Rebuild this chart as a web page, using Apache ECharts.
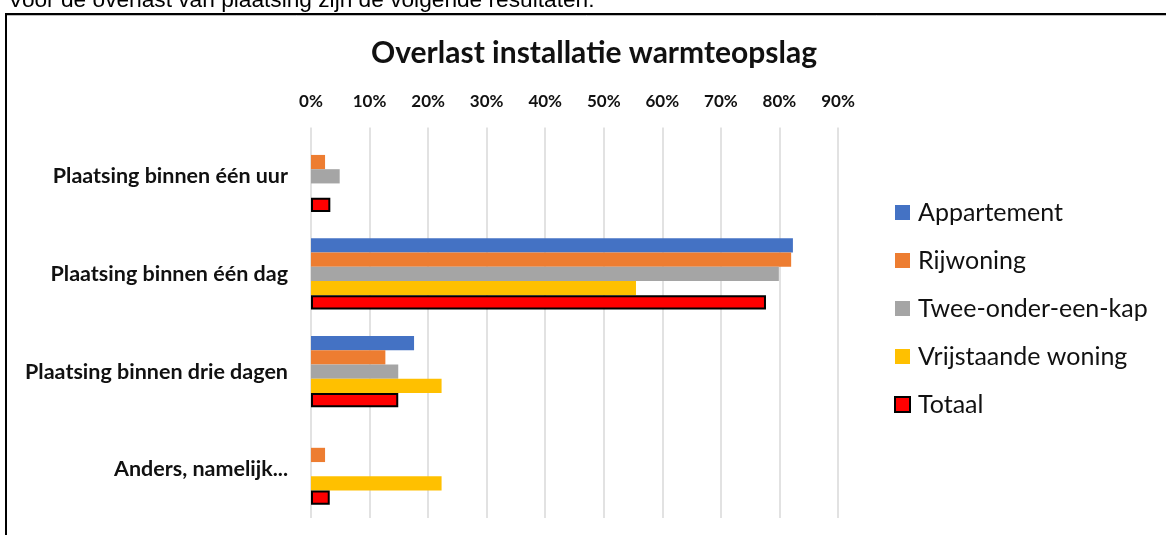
<!DOCTYPE html>
<html>
<head>
<meta charset="utf-8">
<script src="https://cdn.jsdelivr.net/npm/echarts@6/dist/echarts.min.js"></script>
<style>
  html, body { margin: 0; padding: 0; background: #fff; }
  #chart { width: 1166px; height: 535px; }
</style>
</head>
<body>
<div id="chart"></div>
<script>
// Categories (top to bottom) and percentage per housing type
const categories = [
  'Plaatsing binnen één uur',
  'Plaatsing binnen één dag',
  'Plaatsing binnen drie dagen',
  'Anders, namelijk...'
];
const appartement = [0, 82.3, 17.6, 0];
const rijwoning = [2.4, 82.0, 12.7, 2.4];
const tweeOnderEenKap = [4.9, 79.9, 14.9, 0];
const vrijstaandeWoning = [0, 55.5, 22.3, 22.3];
const totaal = [3.3, 77.7, 14.9, 3.2];
const seriesNames = ['Appartement', 'Rijwoning', 'Twee-onder-een-kap', 'Vrijstaande woning', 'Totaal'];
const chartTitle = 'Overlast installatie warmteopslag';
const introText = 'Voor de overlast van plaatsing zijn de volgende resultaten:';

const colors = ['#4472C4', '#ED7D31', '#A5A5A5', '#FFC000', '#FF0000'];
const seriesData = [appartement, rijwoning, tweeOnderEenKap, vrijstaandeWoning, totaal];
const uiFont = 'Lato';

const chart = echarts.init(document.getElementById('chart'), null, { renderer: 'canvas' });

const series = seriesNames.map((name, i) => ({
  name,
  type: 'bar',
  data: seriesData[i],
  barGap: '0%',
  barCategoryGap: '27%',
  itemStyle: i === 4
    ? { color: colors[i], borderColor: '#000', borderWidth: 2 }
    : { color: colors[i] },
  emphasis: { disabled: true }
}));

chart.setOption({
  animation: false,
  backgroundColor: '#fff',
  title: {
    text: chartTitle,
    left: 589,
    textAlign: 'center',
    top: 33,
    textStyle: { fontFamily: uiFont, fontWeight: 'bold', fontSize: 30, color: '#111' }
  },
  legend: {
    orient: 'vertical',
    left: 889,
    top: 195,
    itemWidth: 15,
    itemHeight: 15,
    itemGap: 23,
    icon: 'rect',
    data: seriesNames,
    textStyle: { fontFamily: uiFont, fontSize: 25, color: '#111', padding: [0, 0, 0, 3] }
  },
  grid: { left: 311, right: 328, top: 127.5, bottom: 17, containLabel: false },
  xAxis: {
    type: 'value',
    position: 'top',
    min: 0,
    max: 90,
    interval: 10,
    axisLine: { show: false },
    axisTick: { show: false },
    splitLine: { show: true, lineStyle: { color: '#d9d9d9', width: 1.5 } },
    axisLabel: {
      formatter: '{value}%',
      margin: 17,
      fontFamily: uiFont,
      fontWeight: 'bold',
      fontSize: 17,
      color: '#111'
    }
  },
  yAxis: {
    type: 'category',
    inverse: true,
    data: categories,
    axisLine: { show: false },
    axisTick: { show: false },
    axisLabel: {
      margin: 23,
      fontFamily: uiFont,
      fontWeight: 'bold',
      fontSize: 21.5,
      color: '#111'
    }
  },
  graphic: [
    {
      type: 'text',
      left: 8,
      top: -11,
      style: { text: introText, fontFamily: 'Liberation Sans', fontSize: 22.7, fill: '#000' }
    },
    {
      type: 'rect',
      shape: { x: 6, y: 14, width: 1200, height: 600 },
      style: { fill: 'none', stroke: '#000', lineWidth: 2 },
      silent: true
    },
    {
      type: 'line',
      shape: { x1: 7, y1: 15.5, x2: 1166, y2: 15.5 },
      style: { stroke: '#bdbdbd', lineWidth: 1 },
      silent: true
    }
  ],
  series
});
</script>
</body>
</html>
